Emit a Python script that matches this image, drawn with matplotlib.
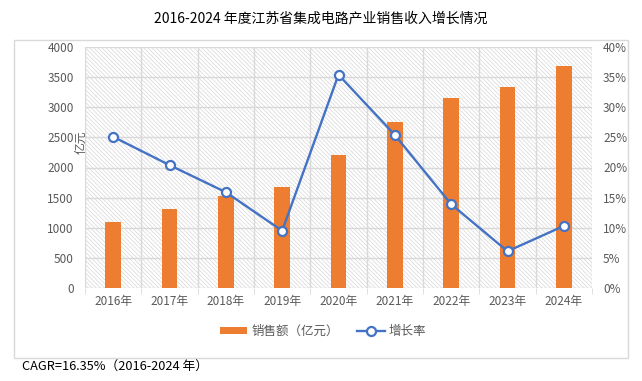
import matplotlib
matplotlib.use("Agg")
import matplotlib.pyplot as plt
import numpy as np
from matplotlib.lines import Line2D
from matplotlib.patches import Patch, Rectangle

plt.rcParams['font.family'] = ['Noto Sans CJK SC', 'DejaVu Sans']
plt.rcParams['hatch.linewidth'] = 0.5

years = ['2016年', '2017年', '2018年', '2019年', '2020年', '2021年', '2022年', '2023年', '2024年']
sales = [1090, 1311, 1527, 1676, 2207, 2755, 3154, 3336, 3685]
growth = [25.1, 20.4, 15.9, 9.5, 35.4, 25.4, 13.9, 6.1, 10.3]
left_ticks = [0, 500, 1000, 1500, 2000, 2500, 3000, 3500, 4000]
right_ticks = [0, 5, 10, 15, 20, 25, 30, 35, 40]

W, H = 642, 381
fig = plt.figure(figsize=(W/100, H/100), dpi=100)

# outer chart border
fig.patches.append(Rectangle((14/W, 1-358/H), (628-14)/W, (358-40)/H,
                             transform=fig.transFigure, fill=False,
                             edgecolor='#d9d9d9', linewidth=1.0))

ax = fig.add_axes([85/W, 1-288/H, (592-85)/W, (288-47)/H])
x = np.arange(len(years))
ax.set_xlim(-0.5, len(years)-0.5)
ax.set_ylim(0, 4000)

# hatched background
ax.add_patch(Rectangle((0, 0), 1, 1, transform=ax.transAxes, facecolor='white',
                       edgecolor='#d6d6d6', hatch='\\' * 8, linewidth=0, zorder=0))

for v in left_ticks[1:]:
    ax.axhline(v, color='#d9d9d9', linewidth=1.0, zorder=1)
for b in np.arange(-0.5, len(years), 1.0):
    ax.axvline(b, color='#d9d9d9', linewidth=1.0, zorder=1)

ax.bar(x, sales, width=0.28, color='#ED7D31', zorder=3)

for s in ax.spines.values():
    s.set_visible(False)
ax.axhline(0, color='#d9d9d9', linewidth=1.0, zorder=2)

ax.set_yticks(left_ticks)
ax.set_yticklabels([str(v) for v in left_ticks])
ax.set_xticks(x)
ax.set_xticklabels(years)
ax.tick_params(axis='y', length=0, labelsize=8.5, labelcolor='#595959', pad=8)
ax.tick_params(axis='x', length=0, labelsize=8.5, labelcolor='#595959', pad=5)
ax.set_xticks(np.arange(-0.5, len(years), 1.0), minor=True)
ax.tick_params(axis='x', which='minor', length=4, color='#d9d9d9')

fig.text(81/W, 1-142/H, '亿元', rotation=90, ha='center', va='center',
         fontsize=8.5, color='#595959')

ax2 = ax.twinx()
ax2.set_ylim(0, 40)
ax2.plot(x, growth, color='#4472C4', linewidth=1.7, marker='o', markersize=6.5,
         markerfacecolor='white', markeredgecolor='#4472C4', markeredgewidth=1.6, zorder=5)
ax2.set_yticks(right_ticks)
ax2.set_yticklabels([f'{v}%' for v in right_ticks])
ax2.tick_params(axis='y', length=0, labelsize=8.5, labelcolor='#595959', pad=8)
for s in ax2.spines.values():
    s.set_visible(False)

fig.text(0.5, 1-18/H, '2016-2024 年度江苏省集成电路产业销售收入增长情况',
         ha='center', va='center', fontsize=10, color='#000000')

handles = [Patch(facecolor='#ED7D31', edgecolor='none'),
           Line2D([0], [0], color='#4472C4', linewidth=1.7, marker='o', markersize=6.5,
                  markerfacecolor='white', markeredgecolor='#4472C4', markeredgewidth=1.6)]
fig.legend(handles, ['销售额（亿元）', '增长率'], loc='center',
           bbox_to_anchor=(323/W, 1-331/H), ncol=2, frameon=False,
           fontsize=9, labelcolor='#595959', handlelength=2.2, handleheight=0.5,
           columnspacing=1.5, handletextpad=0.3)

fig.text(22/W, 1-367/H, 'CAGR=16.35%（2016-2024 年）', ha='left', va='center',
         fontsize=9.2, color='#000000')

fig.savefig('out.png', dpi=100)
